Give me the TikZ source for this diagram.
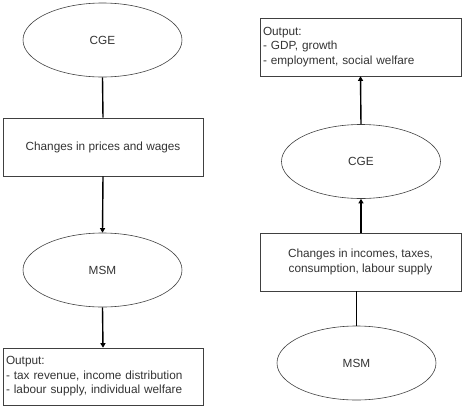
\documentclass[tikz,border=0pt]{standalone}
\usepackage{fontspec}
\setmainfont{Liberation Sans}
\usetikzlibrary{shapes.geometric,arrows.meta}
\begin{document}
\begin{tikzpicture}[x=1pt,y=-1pt,
  ell/.style={draw=black!75,line width=0.6pt,ellipse,minimum width=159pt,minimum height=74pt,inner sep=0pt,font=\fontsize{11.8}{14.5}\selectfont,text=black!80},
  boxn/.style={draw=black!75,line width=0.6pt,rectangle,inner sep=0pt,font=\fontsize{11.8}{14.5}\selectfont,text=black!80},
  conn/.style={line width=1.4pt,black},
  arr/.style={conn,-{Triangle[length=4.5pt,width=5pt]}}]
\useasboundingbox (0,0) rectangle (467,413);
% left column
\node[ell] (cgeL) at (102.5,40) {CGE};
\node[boxn,minimum width=200pt,minimum height=58pt] (pw) at (103,147) {Changes in prices and wages};
\node[ell] (msmL) at (102.5,270) {MSM};
\node[boxn,minimum width=200pt,minimum height=57pt,align=left,text width=194pt] (outL) at (103,376.5) {Output:\\- tax revenue, income distribution\\- labour supply, individual welfare};
\draw[conn] (cgeL.south) -- (pw.north);
\draw[arr] (pw.south) -- (msmL.north);
\draw[arr] (msmL.south) -- (outL.north);
% right column
\node[boxn,minimum width=201pt,minimum height=58pt,align=left,text width=195pt] (outR) at (360.5,47) {Output:\\- GDP, growth\\- employment, social welfare};
\node[ell] (cgeR) at (361,161.5) {CGE};
\node[boxn,minimum width=201pt,minimum height=58pt,align=center] (inc) at (360.5,262) {Changes in incomes, taxes,\\consumption, labour supply};
\node[ell] (msmR) at (356.5,363) {MSM};
\draw[arr] (cgeR.north) -- (outR.south);
\draw[arr] (inc.north-|cgeR.south) -- (cgeR.south);
\draw[conn] (msmR.north) -- (inc.south-|msmR.north);
\end{tikzpicture}
\end{document}
